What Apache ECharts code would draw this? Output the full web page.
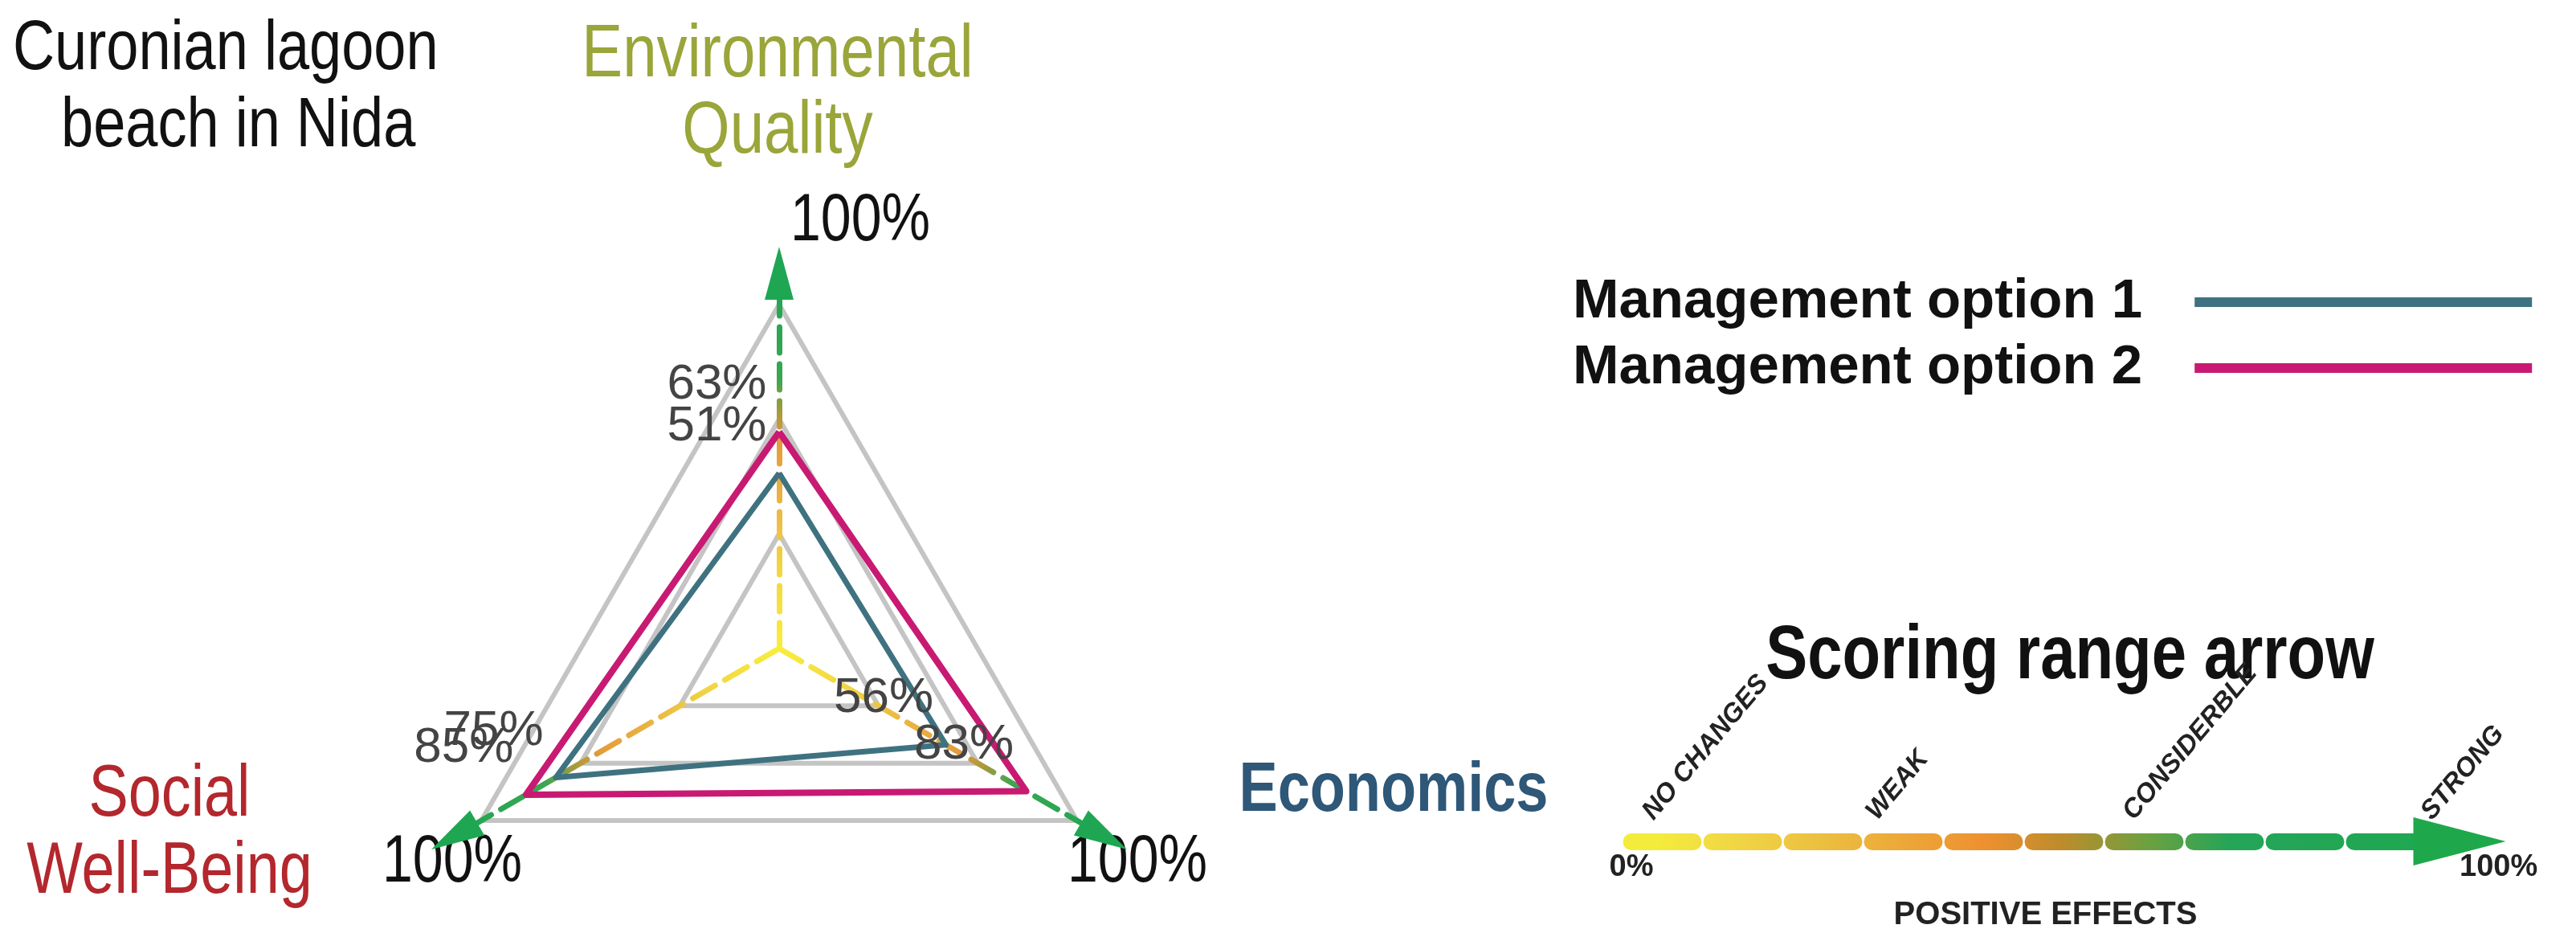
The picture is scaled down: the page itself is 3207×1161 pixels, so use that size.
<!DOCTYPE html>
<html>
<head>
<meta charset="utf-8">
<script src="https://cdn.jsdelivr.net/npm/echarts@6/dist/echarts.min.js"></script>
<style>
  html, body { margin: 0; padding: 0; background: #fff; }
  #chart { width: 3207px; height: 1161px; }
</style>
</head>
<body>
<div id="chart"></div>
<script>
// radar axes, in ECharts order (top, lower left, lower right)
const axisNames = ['Environmental Quality', 'Social Well-Being', 'Economics'];
const option1 = [51, 75, 56];
const option2 = [63, 85, 83];
const seriesNames = ['Management option 1', 'Management option 2'];

// scoring range arrow
const scaleNames = ['NO CHANGES', 'WEAK', 'CONSIDERBLE', 'STRONG'];
const scalePos = [2, 29, 60, 96];
const scaleEnds = [0, 100];

const FONT = "'Liberation Sans', Arial, sans-serif";
const NARROW = 0.82; // no narrow font installed, squeeze free texts instead
const TEAL = '#3f7280';
const MAGENTA = '#c81a72';
const CX = 970, CY = 807;

const chart = echarts.init(document.getElementById('chart'));

const axisGrad = new echarts.graphic.RadialGradient(CX, CY, 467, [
  { offset: 0, color: '#f8ee3c' },
  { offset: 0.22, color: '#f2d444' },
  { offset: 0.4, color: '#e9b444' },
  { offset: 0.55, color: '#e49c3a' },
  { offset: 0.63, color: '#a89a3c' },
  { offset: 0.72, color: '#3aa652' },
  { offset: 1, color: '#1fa653' }
], true);

const scaleGrad = new echarts.graphic.LinearGradient(0, 0, 1, 0, [
  { offset: 0.04, color: '#f4ec3c' },
  { offset: 0.14, color: '#f0d445' },
  { offset: 0.23, color: '#ecc040' },
  { offset: 0.33, color: '#eca838' },
  { offset: 0.43, color: '#ee9030' },
  { offset: 0.52, color: '#bc8c2c' },
  { offset: 0.62, color: '#6ea040' },
  { offset: 0.72, color: '#24a558' },
  { offset: 1, color: '#1ea850' }
]);

const indicator = axisNames.map(n => ({ name: n, max: 100 }));

function txt(x, y, text, font, fill, align, extra) {
  return {
    type: 'text', x: x, y: y, scaleX: NARROW, silent: true,
    style: Object.assign({ text: text, font: font, fill: fill, align: align, verticalAlign: 'middle' }, extra || {})
  };
}

const option = {
  animation: false,
  backgroundColor: '#fff',
  textStyle: { fontFamily: FONT },
  radar: [
    {
      center: [CX, CY], radius: 428, startAngle: 90, splitNumber: 3, shape: 'polygon',
      indicator: indicator,
      axisName: { show: false },
      splitLine: { lineStyle: { color: '#c4c4c4', width: 6 } },
      splitArea: { show: false },
      axisLine: { show: false },
      axisTick: { show: false },
      axisLabel: { show: false }
    },
    {
      center: [CX, CY], radius: 467, startAngle: 90, splitNumber: 1, shape: 'polygon',
      indicator: indicator,
      axisName: { show: false },
      splitLine: { show: false },
      splitArea: { show: false },
      axisLine: {
        show: true, symbol: ['none', 'triangle'], symbolSize: [36, 66],
        lineStyle: { color: axisGrad, width: 7, type: [32, 14] }
      },
      axisTick: { show: false },
      axisLabel: { show: false }
    }
  ],
  legend: {
    orient: 'vertical', left: 1953, top: 330, align: 'right',
    icon: 'rect', itemWidth: 420, itemHeight: 12, itemGap: 0,
    selectedMode: false,
    data: seriesNames,
    itemStyle: { borderWidth: 0 },
    textStyle: { fontFamily: FONT, fontSize: 69, fontWeight: 'bold', color: '#111', lineHeight: 82, padding: [0, 60, 0, 0] }
  },
  grid: { left: 2031, top: 1046, width: 1031, height: 1, outerBoundsMode: 'none' },
  xAxis: [
    {
      type: 'value', min: 0, max: 100, position: 'bottom',
      axisLine: { show: true, lineStyle: { color: scaleGrad, width: 21, type: [77, 23] } },
      axisTick: { show: false }, splitLine: { show: false },
      axisLabel: {
        customValues: scaleEnds, formatter: '{value}%', margin: 14, alignMaxLabel: 'left',
        fontFamily: FONT, fontSize: 38, fontWeight: 'bold', color: '#222'
      },
      name: 'POSITIVE EFFECTS', nameLocation: 'middle', nameGap: 72,
      nameTextStyle: { fontFamily: FONT, fontSize: 40, fontWeight: 'bold', color: '#222' }
    },
    {
      type: 'value', min: 0, max: 100, position: 'top',
      axisLine: { show: false }, axisTick: { show: false }, splitLine: { show: false },
      axisLabel: {
        customValues: scalePos, rotate: -50, margin: 30,
        formatter: v => scaleNames[scalePos.indexOf(v)] || '',
        fontFamily: FONT, fontSize: 33, fontWeight: 'bold', fontStyle: 'italic', color: '#222'
      }
    },
    {
      type: 'value', min: 0, max: 100, position: 'bottom',
      axisLine: {
        show: true, symbol: ['none', 'triangle'], symbolSize: [60, 115],
        lineStyle: { color: '#1ea84b', width: 0 }
      },
      axisTick: { show: false }, splitLine: { show: false }, axisLabel: { show: false }
    }
  ],
  yAxis: { type: 'value', show: false },
  series: [{
    type: 'radar', radarIndex: 0, silent: true,
    symbol: 'circle', symbolSize: 1,
    label: {
      show: true, position: 'left', distance: 15, offset: [0, -58],
      formatter: p => p.value + '%',
      color: '#444', fontFamily: FONT, fontSize: 62
    },
    data: [
      { name: seriesNames[0], value: option1, itemStyle: { color: TEAL }, lineStyle: { color: TEAL, width: 7 } },
      { name: seriesNames[1], value: option2, itemStyle: { color: MAGENTA }, lineStyle: { color: MAGENTA, width: 8 } }
    ]
  }],
  graphic: [
    txt(16, 62, 'Curonian lagoon', '88px ' + FONT, '#111', 'left'),
    txt(76, 158, 'beach in Nida', '88px ' + FONT, '#111', 'left'),
    txt(968, 117, 'Environmental\nQuality', '93px ' + FONT, '#9aa53a', 'center', { lineHeight: 95 }),
    txt(211, 1038, 'Social\nWell-Being', '90px ' + FONT, '#b3272d', 'center', { lineHeight: 96 }),
    txt(1735, 985, 'Economics', 'bold 88px ' + FONT, '#2e5778', 'center'),
    txt(984, 276, '100%', '83px ' + FONT, '#111', 'left'),
    txt(476, 1074, '100%', '83px ' + FONT, '#111', 'left'),
    txt(1329, 1074, '100%', '83px ' + FONT, '#111', 'left'),
    txt(2577, 818, 'Scoring range arrow', 'bold 95px ' + FONT, '#111', 'center')
  ]
};

chart.setOption(option);
</script>
</body>
</html>
